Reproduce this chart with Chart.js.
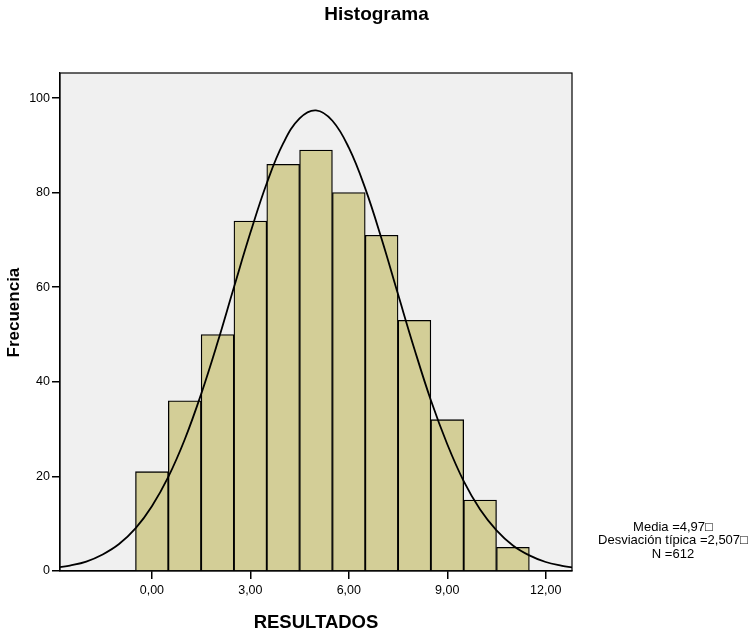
<!DOCTYPE html>
<html>
<head>
<meta charset="utf-8">
<script src="https://cdn.jsdelivr.net/npm/chart.js@4.4.1/dist/chart.umd.min.js"></script>
<style>
  html, body { margin: 0; padding: 0; background: #ffffff; }
  #wrap { width: 753px; height: 629px; }
</style>
</head>
<body>
<div id="wrap"><canvas id="histograma" width="753" height="629"></canvas></div>
<script>
// Datos del histograma
var binCenters = [0, 1, 2, 3, 4, 5, 6, 7, 8, 9, 10, 11];
var frequencies = [21, 36, 50, 74, 86, 89, 80, 71, 53, 32, 15, 5];

// Curva normal
var curveX = [-2.8, -2.5, -2, -1.5, -1, -0.5, 0, 0.5, 1, 1.5, 2, 2.5, 3, 3.5, 4, 4.5, 5,
              5.5, 6, 6.5, 7, 7.5, 8, 8.5, 9, 9.5, 10, 10.5, 11, 11.5, 12, 12.5, 12.8];
var curveY = [0.8, 1.15, 2.0, 3.5, 5.7, 9.0, 13.7, 19.9, 27.8, 37.4, 48.3, 60.0, 71.5, 82.0, 90.4, 95.7, 97.4,
              95.2, 89.5, 80.9, 70.2, 58.5, 46.9, 36.1, 26.8, 19.0, 13.0, 8.6, 5.4, 3.3, 1.9, 1.1, 0.75];

var xTickValues = [0, 3, 6, 9, 12];
var xTickLabels = ['0,00', '3,00', '6,00', '9,00', '12,00'];
var yTickValues = [0, 20, 40, 60, 80, 100];

var statsLines = ['Media =4,97\u25A1', 'Desviación típica =2,507\u25A1', 'N =612'];

var FONT = "'Liberation Sans', Arial, sans-serif";

document.addEventListener("DOMContentLoaded", function () {
    dibujarHistograma();
});

function dibujarHistograma() {
    var ctx = document.getElementById('histograma').getContext('2d');

    var barData = binCenters.map(function (c, i) { return { x: c, y: frequencies[i] }; });
    var lineData = curveX.map(function (v, i) { return { x: v, y: curveY[i] }; });

    // Fondo gris, marco del área de trazado y estadísticos
    var marcoPlugin = {
        id: 'marco',
        beforeDraw: function (chart) {
            var a = chart.chartArea;
            var c = chart.ctx;
            c.save();
            c.fillStyle = '#f0f0f0';
            c.fillRect(a.left, a.top, a.right - a.left, a.bottom - a.top);
            c.restore();
        },
        afterDatasetsDraw: function (chart) {
            var a = chart.chartArea;
            var c = chart.ctx;
            c.save();
            c.strokeStyle = '#000';
            c.lineWidth = 1.2;
            c.strokeRect(a.left, a.top, a.right - a.left, a.bottom - a.top);
            c.restore();
        },
        afterDraw: function (chart) {
            var c = chart.ctx;
            c.save();
            c.fillStyle = '#000';
            c.font = '13px ' + FONT;
            c.textAlign = 'center';
            c.textBaseline = 'middle';
            for (var i = 0; i < statsLines.length; i++) {
                c.fillText(statsLines[i], 673, 527 + i * 13.5);
            }
            c.restore();
        }
    };

    new Chart(ctx, {
        type: 'bar',
        data: {
            datasets: [{
                type: 'line',
                data: lineData,
                borderColor: '#000',
                borderWidth: 1.8,
                pointRadius: 0,
                tension: 0.4,
                fill: false,
                order: 0
            }, {
                type: 'bar',
                data: barData,
                backgroundColor: '#d3ce97',
                borderColor: '#000',
                borderWidth: 1.3,
                barPercentage: 1,
                categoryPercentage: 1,
                order: 1
            }]
        },
        plugins: [marcoPlugin],
        options: {
            responsive: false,
            animation: false,
            layout: {
                padding: 0
            },
            scales: {
                x: {
                    type: 'linear',
                    min: -2.8,
                    max: 12.8,
                    offset: false,
                    afterBuildTicks: function (scale) {
                        scale.ticks = xTickValues.map(function (v) { return { value: v }; });
                    },
                    afterFit: function (scale) { scale.height = 58; },
                    ticks: {
                        color: '#000',
                        font: { family: FONT, size: 12.5 },
                        padding: 4,
                        maxRotation: 0,
                        callback: function (value) {
                            var k = xTickValues.indexOf(value);
                            return k >= 0 ? xTickLabels[k] : '';
                        }
                    },
                    grid: {
                        display: true,
                        offset: false,
                        drawOnChartArea: false,
                        drawTicks: true,
                        tickLength: 8,
                        color: '#000',
                        lineWidth: 1.5
                    },
                    border: { display: true, color: '#000', width: 1.2 },
                    title: {
                        display: true,
                        text: 'RESULTADOS',
                        color: '#000',
                        font: { family: FONT, size: 18.5, weight: 'bold' },
                        padding: { top: 0, bottom: -5 }
                    }
                },
                y: {
                    min: 0,
                    max: 105.3,
                    afterBuildTicks: function (scale) {
                        scale.ticks = yTickValues.map(function (v) { return { value: v }; });
                    },
                    afterFit: function (scale) { scale.width = 60; },
                    ticks: {
                        color: '#000',
                        font: { family: FONT, size: 12.5 },
                        padding: 2
                    },
                    grid: {
                        display: true,
                        drawOnChartArea: false,
                        drawTicks: true,
                        tickLength: 8,
                        color: '#000',
                        lineWidth: 1.5
                    },
                    border: { display: true, color: '#000', width: 1.2 },
                    title: {
                        display: true,
                        text: '    Frecuencia',
                        color: '#000',
                        font: { family: FONT, size: 17, weight: 'bold' },
                        padding: { top: 4, bottom: 0 }
                    }
                },
                // eje vacío a la derecha: deja sitio para los estadísticos
                derecha: {
                    type: 'linear',
                    position: 'right',
                    display: true,
                    afterFit: function (scale) { scale.width = 181; },
                    ticks: { display: false },
                    grid: { display: false, drawTicks: false },
                    border: { display: false }
                }
            },
            plugins: {
                legend: { display: false },
                tooltip: { enabled: false },
                title: {
                    display: true,
                    text: 'Histograma',
                    color: '#000',
                    font: { family: FONT, size: 19, weight: 'bold' },
                    padding: { top: 3.6, bottom: 46.6 }
                }
            }
        }
    });
}
</script>
</body>
</html>
